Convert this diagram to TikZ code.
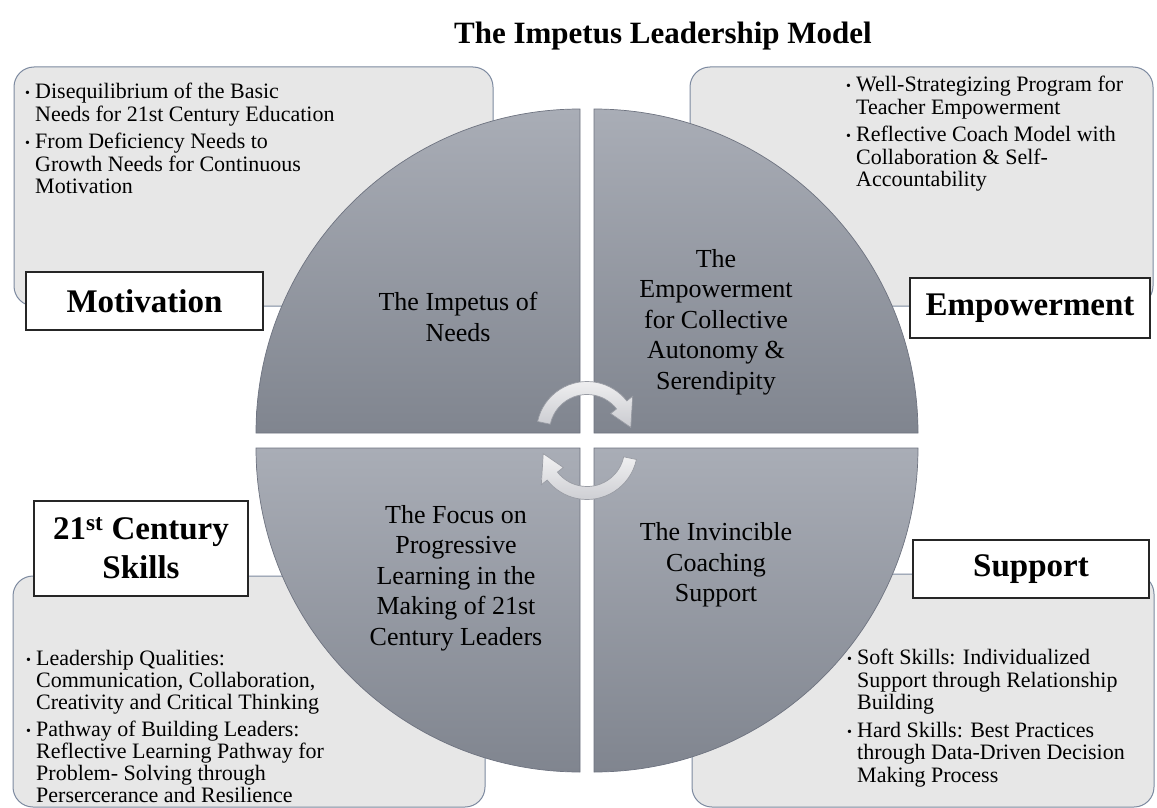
\documentclass[tikz,border=0pt]{standalone}
\usepackage{fontspec}
\setmainfont{Liberation Serif}
\usetikzlibrary{calc}
\definecolor{qtop}{HTML}{A9ADB6}
\definecolor{qbot}{HTML}{80858F}
\definecolor{qline}{HTML}{6E7380}
\definecolor{boxfill}{HTML}{E7E7E7}
\definecolor{boxline}{HTML}{7D8AA0}
\definecolor{arrtop}{HTML}{F2F2F3}
\definecolor{arrbot}{HTML}{CACBD0}
\definecolor{arrline}{HTML}{999CA4}
\newcommand{\bul}{\makebox[10pt][l]{\raisebox{1pt}{\fontsize{14}{14}\selectfont •}}}
\newcommand{\ind}{\hspace*{10pt}}
\begin{document}
\begin{tikzpicture}[x=1pt,y=1pt,
  infobox/.style={draw=boxline, line width=1pt, fill=boxfill, rounded corners=20pt, inner sep=0pt, outer sep=0pt},
  quad/.style={top color=qtop, bottom color=qbot, draw=qline, line width=0.7pt},
  qtext/.style={align=center, font=\fontsize{26}{30.5}\selectfont, text=black, inner sep=0pt},
  btext/.style={align=left, font=\fontsize{22}{22.5}\selectfont, text=black, inner sep=0pt, anchor=north west},
  label/.style={draw=black!85, line width=1.2pt, fill=white, inner sep=0pt, outer sep=0pt, align=center, font=\fontsize{33}{39}\selectfont\bfseries},
  cyc/.style={top color=arrtop, bottom color=arrbot, draw=arrline, line width=0.7pt}]
\useasboundingbox (0,0) rectangle (1157,-808);
\fill[white] (0,0) rectangle (1157,-808);

% title
\node[font=\fontsize{31}{31}\selectfont\bfseries, inner sep=0pt] (title) at (663,-36) {The Impetus Leadership Model};

% background info boxes
\node[infobox, minimum width=479pt, minimum height=239pt] (tlbox) at (253.5,-186.5) {};
\node[infobox, minimum width=463pt, minimum height=239pt] (trbox) at (921.5,-186.5) {};
\node[infobox, minimum width=472pt, minimum height=231pt] (blbox) at (249,-691.5) {};
\node[infobox, minimum width=462pt, minimum height=233pt] (brbox) at (923,-690.5) {};

% quadrants
\path[quad] (580,-433) -- (256,-433) arc[start angle=180, end angle=90, radius=324] -- cycle;
\path[quad] (594,-433) -- (594,-109) arc[start angle=90, end angle=0, radius=324] -- cycle;
\path[quad] (580,-448) -- (580,-772) arc[start angle=270, end angle=180, radius=324] -- cycle;
\path[quad] (594,-448) -- (918,-448) arc[start angle=0, end angle=-90, radius=324] -- cycle;

% circular arrows
\begin{scope}[shift={(587,-432)}]
\path[cyc] (168:50.5) arc[start angle=168, end angle=38, radius=50.5] -- (38:58) -- (6:44) -- (38:30) -- (38:37.5) arc[start angle=38, end angle=168, radius=37.5] -- cycle;
\end{scope}
\begin{scope}[shift={(587,-449)}]
\path[cyc] (348:50.5) arc[start angle=348, end angle=218, radius=50.5] -- (218:58) -- (186:44) -- (218:30) -- (218:37.5) arc[start angle=218, end angle=348, radius=37.5] -- cycle;
\end{scope}

% quadrant texts
\node[qtext] (q1) at (458,-317) {The Impetus of\\Needs};
\node[qtext] (q2) at (716,-322) {The\\Empowerment\\for Collective\\Autonomy \&\\Serendipity};
\node[qtext] (q3) at (456,-578) {The Focus on\\Progressive\\Learning in the\\Making of 21st\\Century Leaders};
\node[qtext] (q4) at (716,-565) {The Invincible\\Coaching\\Support};

% bullet texts
\node[btext] (t1) at (25,-83) {\bul Disequilibrium of the Basic\\\ind Needs for 21st Century Education\\[5pt]\bul From Deficiency Needs to\\\ind Growth Needs for Continuous\\\ind Motivation};
\node[btext] (t2) at (846,-76) {\bul Well-Strategizing Program for\\\ind Teacher Empowerment\\[5pt]\bul Reflective Coach Model with\\\ind Collaboration \& Self-\\\ind Accountability};
\node[btext, font=\fontsize{22}{21.8}\selectfont] (t3) at (26,-650) {\bul Leadership Qualities:\\\ind Communication, Collaboration,\\\ind Creativity and Critical Thinking\\[6pt]\bul Pathway of Building Leaders:\\\ind Reflective Learning Pathway for\\\ind Problem- Solving through\\\ind Persercerance and Resilience};
\node[btext] (t4) at (847,-649) {\bul Soft Skills: Individualized\\\ind Support through Relationship\\\ind Building\\[5pt]\bul Hard Skills: Best Practices\\\ind through Data-Driven Decision\\\ind Making Process};

% labels
\node[label, minimum width=237pt, minimum height=58pt] (motiv) at (144.5,-301) {Motivation};
\node[label, minimum width=240pt, minimum height=60pt] (empow) at (1030,-308) {Empowerment};
\node[label, minimum width=214pt, minimum height=95pt] (skills) at (141,-548.5) {21\textsuperscript{st} Century\\Skills};
\node[label, minimum width=236pt, minimum height=58pt] (supp) at (1031,-569) {Support};
\end{tikzpicture}
\end{document}
